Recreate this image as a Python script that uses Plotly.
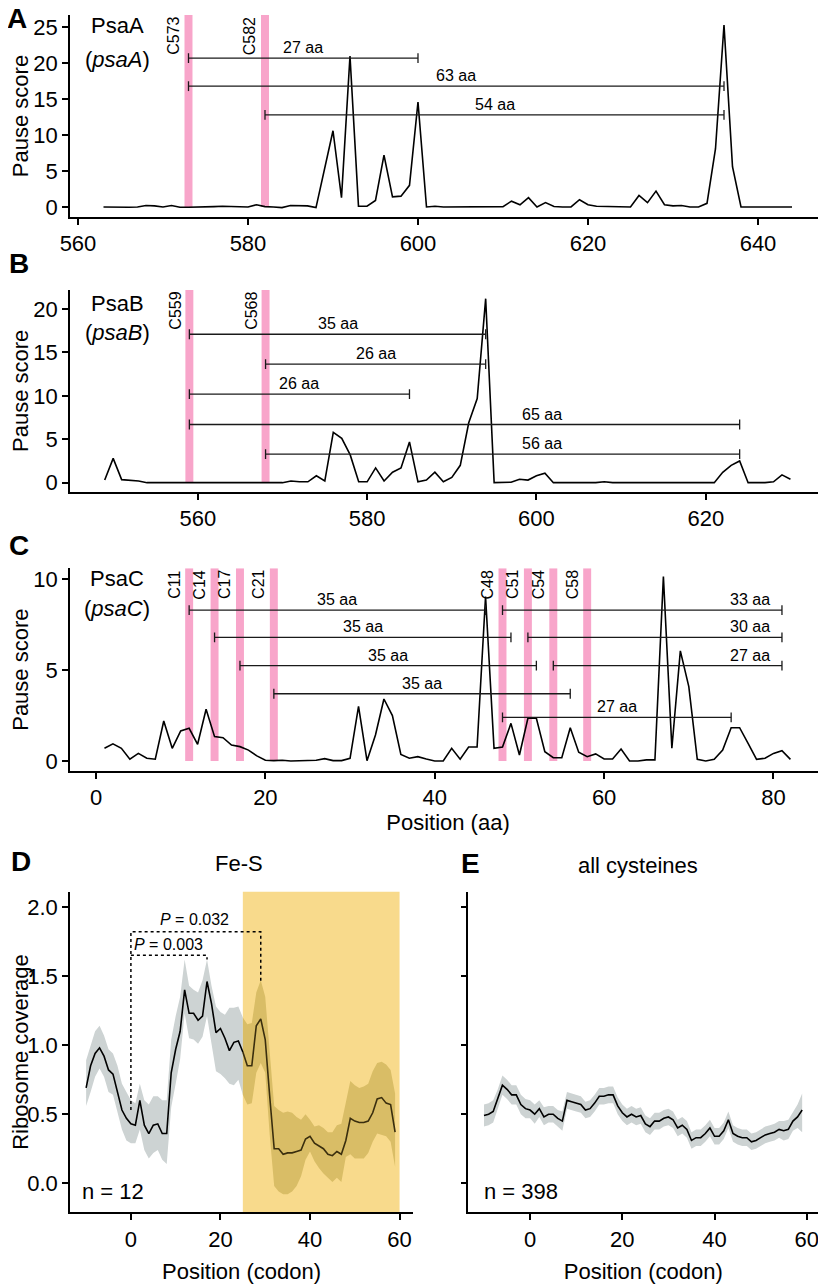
import plotly.graph_objects as go

# ---------------- data ----------------
A_pos = list(range(563, 645))
A_score = [0.0, -0.05, -0.05, -0.05, 0.0, 0.2, 0.15, 0.0, 0.2, -0.05,
           -0.05, -0.05, 0.0, 0.05, 0.1, 0.05, -0.05, 0.0, 0.3, 0.05,
           0.0, -0.1, 0.2, 0.2, 0.15, -0.1, 5.3, 10.6, 1.3, 21.0,
           0.1, 0.1, 0.9, 7.2, 1.4, 1.5, 3.0, 14.6, 0.0, 0.1,
           0.0, 0.0, 0.0, 0.0, 0.1, 0.05, 0.05, 0.05, 0.8, 0.3,
           1.3, 0.0, 0.6, 0.05, 0.0, 0.0, 1.0, 0.3, 0.1, 0.1,
           0.0, 0.0, 0.0, 1.6, 0.6, 2.2, 0.3, 0.15, 0.2, 0.0,
           0.0, 0.5, 8.1, 25.3, 5.6, 0.0, 0.0, 0.0, 0.0, 0.0,
           0.0, 0.0]
A_cys = [573, 582]
A_br_start = [573, 573, 582]
A_br_end = [600, 636, 636]
A_br_y = [20.7, 16.8, 12.8]
A_br_text = ["27 aa", "63 aa", "54 aa"]
A_br_text_x = [586.5, 604.5, 609.0]

B_pos = list(range(549, 631))
B_score = [0.3, 2.8, 0.35, 0.3, 0.2, 0.0, 0.0, 0.0, 0.0, 0.0,
           0.0, 0.0, 0.0, 0.0, 0.0, 0.0, 0.0, 0.05, 0.0, 0.0,
           0.0, 0.0, 0.2, 0.1, 0.1, 0.8, 0.2, 5.8, 5.1, 3.2,
           0.1, 0.1, 1.7, 0.2, 1.2, 1.7, 4.7, 0.1, 0.3, 1.2,
           0.1, 0.6, 2.0, 6.9, 9.7, 21.2, 0.0, 0.0, 0.05, 0.4,
           0.3, 0.8, 1.1, 0.0, 0.0, 0.0, 0.05, 0.0, 0.0, 0.1,
           0.0, 0.0, 0.0, 0.0, 0.0, 0.0, 0.0, 0.0, 0.0, 0.0,
           0.0, 0.0, 0.0, 1.2, 2.0, 2.5, 0.0, 0.0, 0.0, 0.1,
           0.9, 0.4]
B_cys = [559, 568]
B_br_start = [559, 568, 559, 559, 568]
B_br_end = [594, 594, 585, 624, 624]
B_br_y = [17.1, 13.65, 10.2, 6.7, 3.3]
B_br_text = ["35 aa", "26 aa", "26 aa", "65 aa", "56 aa"]
B_br_text_x = [576.5, 581.0, 572.0, 600.6, 600.6]

C_pos = list(range(1, 83))
C_score = [0.7, 0.94, 0.7, 0.1, 0.42, 0.15, 0.1, 2.2, 0.7, 1.65,
           1.8, 0.92, 2.85, 1.34, 1.28, 0.88, 0.79, 0.6, 0.28, 0.04,
           0.02, 0.04, 0.0, 0.02, 0.02, 0.04, 0.13, 0.02, 0.02, 0.15,
           3.0, 0.02, 1.43, 3.41, 2.5, 0.36, 0.15, 0.24, 0.11, 0.0,
           0.0, 0.7, 0.1, 0.77, 0.77, 9.05, 0.7, 0.77, 2.07, 0.33,
           2.35, 2.35, 0.51, 0.18, 0.18, 1.83, 0.48, 0.24, 0.39, 0.11,
           0.11, 0.66, 0.0, 0.0, 0.06, 0.06, 10.15, 0.7, 6.06, 4.09,
           0.09, 0.0, 0.09, 0.6, 1.83, 1.83, 0.97, 0.09, 0.15, 0.42,
           0.57, 0.09]
C_cys = [11, 14, 17, 21, 48, 51, 54, 58]
C_br_start = [11, 14, 17, 21, 48, 51, 54, 48]
C_br_end = [46, 49, 52, 56, 81, 81, 81, 75]
C_br_y = [8.3, 6.8, 5.25, 3.7, 8.3, 6.8, 5.25, 2.4]
C_br_text = ["35 aa", "35 aa", "35 aa", "35 aa", "33 aa", "30 aa", "27 aa", "27 aa"]
C_br_text_x = [28.5, 31.5, 34.5, 38.5, 77.2, 77.2, 77.2, 61.5]

D_pos = list(range(-10, 60))
D_mean = [0.69, 0.85, 0.94, 0.98, 0.92, 0.82, 0.79, 0.66, 0.53, 0.47,
          0.43, 0.42, 0.6, 0.42, 0.36, 0.42, 0.43, 0.36, 0.36, 0.8,
          0.97, 1.1, 1.4, 1.23, 1.23, 1.18, 1.21, 1.46, 1.3, 1.09,
          1.12, 1.05, 0.96, 1.02, 1.03, 0.95, 0.85, 0.85, 1.14, 1.19,
          1.04, 0.63, 0.25, 0.25, 0.21, 0.22, 0.22, 0.23, 0.24, 0.32,
          0.34, 0.29, 0.27, 0.25, 0.21, 0.2, 0.23, 0.21, 0.31, 0.47,
          0.45, 0.44, 0.44, 0.45, 0.51, 0.61, 0.62, 0.58, 0.57, 0.37]
D_upper = [0.89, 1.0, 1.1, 1.14, 1.07, 0.97, 0.94, 0.85, 0.72, 0.66,
           0.6, 0.58, 0.72, 0.6, 0.57, 0.63, 0.63, 0.6, 0.6, 1.04,
           1.21, 1.35, 1.62, 1.43, 1.4, 1.38, 1.47, 1.62, 1.43, 1.28,
           1.24, 1.22, 1.27, 1.27, 1.28, 1.2, 1.15, 1.16, 1.38, 1.47,
           1.35, 0.95, 0.56, 0.53, 0.51, 0.52, 0.51, 0.48, 0.46, 0.5,
           0.46, 0.41, 0.42, 0.4, 0.37, 0.37, 0.42, 0.43, 0.58, 0.74,
           0.71, 0.69, 0.7, 0.72, 0.81, 0.87, 0.88, 0.86, 0.82, 0.65]
D_lower = [0.56, 0.66, 0.77, 0.83, 0.77, 0.66, 0.64, 0.52, 0.39, 0.31,
           0.29, 0.29, 0.39, 0.24, 0.18, 0.22, 0.24, 0.17, 0.14, 0.55,
           0.72, 0.9, 1.23, 1.05, 1.04, 1.01, 1.06, 1.21, 1.01, 0.81,
           0.79, 0.76, 0.72, 0.71, 0.75, 0.64, 0.57, 0.58, 0.8, 0.87,
           0.8, 0.35, -0.02, -0.06, -0.08, -0.08, -0.06, -0.02, 0.05, 0.17,
           0.23, 0.16, 0.11, 0.07, 0.04, 0.01, 0.04, 0.01, 0.19, 0.21,
           0.18, 0.18, 0.18, 0.22, 0.3, 0.36, 0.35, 0.34, 0.3, 0.12]
D_region = [25, 60]
D_p_032 = {"x": [0, 0, 29, 29], "y": [0.53, 1.82, 1.82, 1.45]}
D_p_003 = {"x": [0, 17, 17], "y": [1.65, 1.65, 1.62]}

E_pos = list(range(-10, 60))
E_mean = [0.49, 0.5, 0.52, 0.61, 0.71, 0.68, 0.64, 0.64, 0.57, 0.54,
          0.53, 0.5, 0.54, 0.48, 0.5, 0.5, 0.47, 0.45, 0.6, 0.59,
          0.58, 0.57, 0.53, 0.54, 0.58, 0.63, 0.63, 0.64, 0.64, 0.56,
          0.51, 0.48, 0.5, 0.48, 0.49, 0.43, 0.41, 0.45, 0.45, 0.47,
          0.48, 0.46, 0.4, 0.42, 0.39, 0.31, 0.33, 0.33, 0.36, 0.4,
          0.34, 0.34, 0.38, 0.46, 0.36, 0.34, 0.33, 0.33, 0.3, 0.31,
          0.33, 0.35, 0.36, 0.37, 0.39, 0.38, 0.39, 0.45, 0.48, 0.53]
E_upper = [0.57, 0.58, 0.6, 0.68, 0.78, 0.75, 0.71, 0.71, 0.64, 0.61,
           0.6, 0.57, 0.6, 0.55, 0.56, 0.56, 0.53, 0.52, 0.66, 0.65,
           0.64, 0.63, 0.59, 0.6, 0.64, 0.69, 0.69, 0.7, 0.7, 0.62,
           0.57, 0.54, 0.56, 0.54, 0.55, 0.49, 0.47, 0.51, 0.51, 0.53,
           0.54, 0.52, 0.46, 0.48, 0.45, 0.37, 0.39, 0.39, 0.42, 0.46,
           0.4, 0.4, 0.44, 0.52, 0.42, 0.4, 0.39, 0.39, 0.36, 0.37,
           0.39, 0.41, 0.42, 0.43, 0.45, 0.45, 0.46, 0.52, 0.57, 0.65]
E_lower = [0.41, 0.42, 0.44, 0.54, 0.64, 0.61, 0.57, 0.57, 0.5, 0.47,
           0.47, 0.43, 0.48, 0.42, 0.44, 0.44, 0.41, 0.38, 0.54, 0.53,
           0.52, 0.51, 0.47, 0.48, 0.52, 0.57, 0.57, 0.58, 0.58, 0.5,
           0.45, 0.42, 0.44, 0.42, 0.43, 0.37, 0.35, 0.39, 0.39, 0.41,
           0.42, 0.4, 0.34, 0.36, 0.33, 0.25, 0.27, 0.27, 0.3, 0.34,
           0.28, 0.28, 0.32, 0.4, 0.3, 0.28, 0.27, 0.27, 0.24, 0.25,
           0.27, 0.29, 0.3, 0.31, 0.33, 0.31, 0.32, 0.38, 0.4, 0.37]

# ---------------- styling ----------------
OFF = 8                      # page body margin of the html page
W, H = 826 - OFF, 1284 - OFF
FONT = "Liberation Sans, Arial, Helvetica, sans-serif"
PINK = "#F8A5CA"
YELLOW = "#F8DA8C"
GRAY_RIB = "#CDD3D3"
GOLD_RIB = "#D9BD66"
LINE_IN_YELLOW = "#3A2E0E"
BR_COLOR = "#1A1A1A"


def px(xp):
    return (xp - OFF) / W


def py(yp):
    return 1 - (yp - OFF) / H


fig = go.Figure()
annotations = []
shapes = []


def axis_common(**kw):
    d = dict(showline=True, linecolor="black", linewidth=1.6, ticks="outside",
             ticklen=6, tickwidth=1.5, tickcolor="black", showgrid=False,
             zeroline=False, automargin=False,
             tickfont=dict(family=FONT, size=22, color="black"))
    d.update(kw)
    return d


def pause_panel(xa, ya, pos, score, cys, bs, be, by, bt, btx, ytop):
    fig.add_trace(go.Scatter(x=pos, y=score, mode="lines", xaxis=xa, yaxis=ya,
                             line=dict(color="black", width=1.6),
                             showlegend=False, hoverinfo="skip"))
    for c in cys:
        shapes.append(dict(type="rect", xref=xa, yref=ya, x0=c - 0.47, x1=c + 0.47,
                           y0=0, y1=ytop, fillcolor=PINK, line=dict(width=0), layer="below"))
        annotations.append(dict(text="C%d" % c, textangle=-90, xref=xa,
                                yref=ya + " domain",
                                x=c - 0.5, y=1, xanchor="right", yanchor="top",
                                showarrow=False, font=dict(family=FONT, size=16, color="black")))
    for s, e, yv, t, tx in zip(bs, be, by, bt, btx):
        fig.add_trace(go.Scatter(x=[s, e], y=[yv, yv], mode="lines+markers",
                                 xaxis=xa, yaxis=ya,
                                 line=dict(color=BR_COLOR, width=1.3),
                                 marker=dict(symbol="line-ns", size=7,
                                             line=dict(width=1.3, color=BR_COLOR)),
                                 showlegend=False, hoverinfo="skip"))
        annotations.append(dict(text=t, x=tx, y=yv, xref=xa, yref=ya,
                                xanchor="center", yanchor="bottom", showarrow=False,
                                font=dict(family=FONT, size=16, color="black")))


# Panel A
pause_panel("x", "y", A_pos, A_score, A_cys, A_br_start, A_br_end, A_br_y,
            A_br_text, A_br_text_x, 26.7)
# Panel B
pause_panel("x2", "y2", B_pos, B_score, B_cys, B_br_start, B_br_end, B_br_y,
            B_br_text, B_br_text_x, 22.2)
# Panel C
pause_panel("x3", "y3", C_pos, C_score, C_cys, C_br_start, C_br_end, C_br_y,
            C_br_text, C_br_text_x, 10.6)

# Panel D
split = D_pos.index(D_region[0])
xg = D_pos[:split + 1]
xy = D_pos[split:]
fig.add_trace(go.Scatter(x=xg + xg[::-1], y=D_upper[:split + 1] + D_lower[:split + 1][::-1],
                         fill="toself", fillcolor=GRAY_RIB, line=dict(width=0),
                         mode="lines", xaxis="x4", yaxis="y4", showlegend=False, hoverinfo="skip"))
fig.add_trace(go.Scatter(x=xy + xy[::-1], y=D_upper[split:] + D_lower[split:][::-1],
                         fill="toself", fillcolor=GOLD_RIB, line=dict(width=0),
                         mode="lines", xaxis="x4", yaxis="y4", showlegend=False, hoverinfo="skip"))
fig.add_trace(go.Scatter(x=xg, y=D_mean[:split + 1], mode="lines", xaxis="x4", yaxis="y4",
                         line=dict(color="black", width=1.6), showlegend=False, hoverinfo="skip"))
fig.add_trace(go.Scatter(x=xy, y=D_mean[split:], mode="lines", xaxis="x4", yaxis="y4",
                         line=dict(color=LINE_IN_YELLOW, width=1.6), showlegend=False, hoverinfo="skip"))
for br in (D_p_032, D_p_003):
    fig.add_trace(go.Scatter(x=br["x"], y=br["y"], mode="lines", xaxis="x4", yaxis="y4",
                             line=dict(color="black", width=1.5, dash="dot"),
                             showlegend=False, hoverinfo="skip"))
shapes.append(dict(type="rect", xref="x4", yref="y4 domain", x0=D_region[0], x1=D_region[1],
                   y0=0, y1=1, fillcolor=YELLOW, line=dict(width=0), layer="below"))
annotations.append(dict(text="<i>P</i> = 0.032", x=14.3, y=1.91, xref="x4", yref="y4",
                        xanchor="center", yanchor="middle",
                        showarrow=False, font=dict(family=FONT, size=16, color="black")))
annotations.append(dict(text="<i>P</i> = 0.003", x=8.4, y=1.73, xref="x4", yref="y4",
                        xanchor="center", yanchor="middle",
                        showarrow=False, font=dict(family=FONT, size=16, color="black")))
annotations.append(dict(text="n = 12", x=-11.3, y=-0.06, xref="x4", yref="y4",
                        xanchor="left", yanchor="middle",
                        showarrow=False, font=dict(family=FONT, size=22, color="black")))

# Panel E
fig.add_trace(go.Scatter(x=E_pos + E_pos[::-1], y=E_upper + E_lower[::-1],
                         fill="toself", fillcolor=GRAY_RIB, line=dict(width=0),
                         mode="lines", xaxis="x5", yaxis="y5", showlegend=False, hoverinfo="skip"))
fig.add_trace(go.Scatter(x=E_pos, y=E_mean, mode="lines", xaxis="x5", yaxis="y5",
                         line=dict(color="black", width=1.6), showlegend=False, hoverinfo="skip"))
annotations.append(dict(text="n = 398", x=-10.4, y=-0.06, xref="x5", yref="y5",
                        xanchor="left", yanchor="middle",
                        showarrow=False, font=dict(family=FONT, size=22, color="black")))

# Text labels (pixel positions of the reference picture)
for txt, yy in [("PsaA", 25), ("(<i>psaA</i>)", 60), ("PsaB", 303), ("(<i>psaB</i>)", 332),
                ("PsaC", 578), ("(<i>psaC</i>)", 608)]:
    annotations.append(dict(text=txt, x=px(117), y=py(yy), xref="paper", yref="paper",
                            xanchor="center", yanchor="middle",
                            showarrow=False, font=dict(family=FONT, size=22, color="black")))
for txt, xx, yy in [("A", 17, 19), ("B", 19, 264), ("C", 19, 546), ("D", 21, 861), ("E", 470, 863)]:
    annotations.append(dict(text="<b>%s</b>" % txt, x=px(xx), y=py(yy), xref="paper", yref="paper",
                            xanchor="center", yanchor="middle",
                            showarrow=False, font=dict(family=FONT, size=28, color="black")))
annotations.append(dict(text="Fe-S", x=px(239), y=py(863), xref="paper", yref="paper",
                        xanchor="center", yanchor="middle",
                        showarrow=False, font=dict(family=FONT, size=22, color="black")))
annotations.append(dict(text="all cysteines", x=px(638), y=py(865), xref="paper", yref="paper",
                        xanchor="center", yanchor="middle",
                        showarrow=False, font=dict(family=FONT, size=22, color="black")))

TITLE_FONT = dict(family=FONT, size=22, color="black")
fig.update_layout(
    width=W, height=H, margin=dict(l=0, r=0, t=0, b=0),
    paper_bgcolor="white", plot_bgcolor="white",
    font=dict(family=FONT, color="black"),
    showlegend=False,
    xaxis=axis_common(domain=[px(70), 1.0], range=[559.06, 648], anchor="y",
                      tickmode="array", tickvals=[560, 580, 600, 620, 640]),
    yaxis=axis_common(domain=[py(217), py(15)], range=[-1.4, 26.7], anchor="x",
                      tickvals=[0, 5, 10, 15, 20, 25],
                      title=dict(text="Pause score", font=TITLE_FONT, standoff=2)),
    xaxis2=axis_common(domain=[px(70), 1.0], range=[544.9, 634.2], anchor="y2",
                       tickvals=[560, 580, 600, 620]),
    yaxis2=axis_common(domain=[py(491.7), py(290)], range=[-1.04, 22.2], anchor="x2",
                       tickvals=[0, 5, 10, 15, 20],
                       title=dict(text="Pause score", font=TITLE_FONT, standoff=2)),
    xaxis3=axis_common(domain=[px(70), 1.0], range=[-3.07, 86.2], anchor="y3",
                       tickvals=[0, 20, 40, 60, 80],
                       title=dict(text="Position (aa)", font=TITLE_FONT, standoff=4)),
    yaxis3=axis_common(domain=[py(771), py(568.3)], range=[-0.55, 10.6], anchor="x3",
                       tickvals=[0, 5, 10],
                       title=dict(text="Pause score", font=TITLE_FONT, standoff=2)),
    xaxis4=axis_common(domain=[px(70), px(413)], range=[-13.6, 63], anchor="y4",
                       tickvals=[0, 20, 40, 60],
                       title=dict(text="Position (codon)", font=TITLE_FONT, standoff=16)),
    yaxis4=axis_common(domain=[py(1212.3), py(891.7)], range=[-0.21, 2.11], anchor="x4",
                       tickvals=[0, 0.5, 1.0, 1.5, 2.0], tickformat=".1f",
                       title=dict(text="Ribosome coverage", font=TITLE_FONT, standoff=2)),
    xaxis5=axis_common(domain=[px(468.3), px(818.3)], range=[-13.4, 62.5], anchor="y5",
                       tickvals=[0, 20, 40, 60],
                       title=dict(text="Position (codon)", font=TITLE_FONT, standoff=16)),
    yaxis5=axis_common(domain=[py(1212.3), py(891.7)], range=[-0.21, 2.11], anchor="x5",
                       tickvals=[0, 0.5, 1.0, 1.5, 2.0], showticklabels=False),
    shapes=shapes,
    annotations=annotations,
)

fig.write_html("out.html")
